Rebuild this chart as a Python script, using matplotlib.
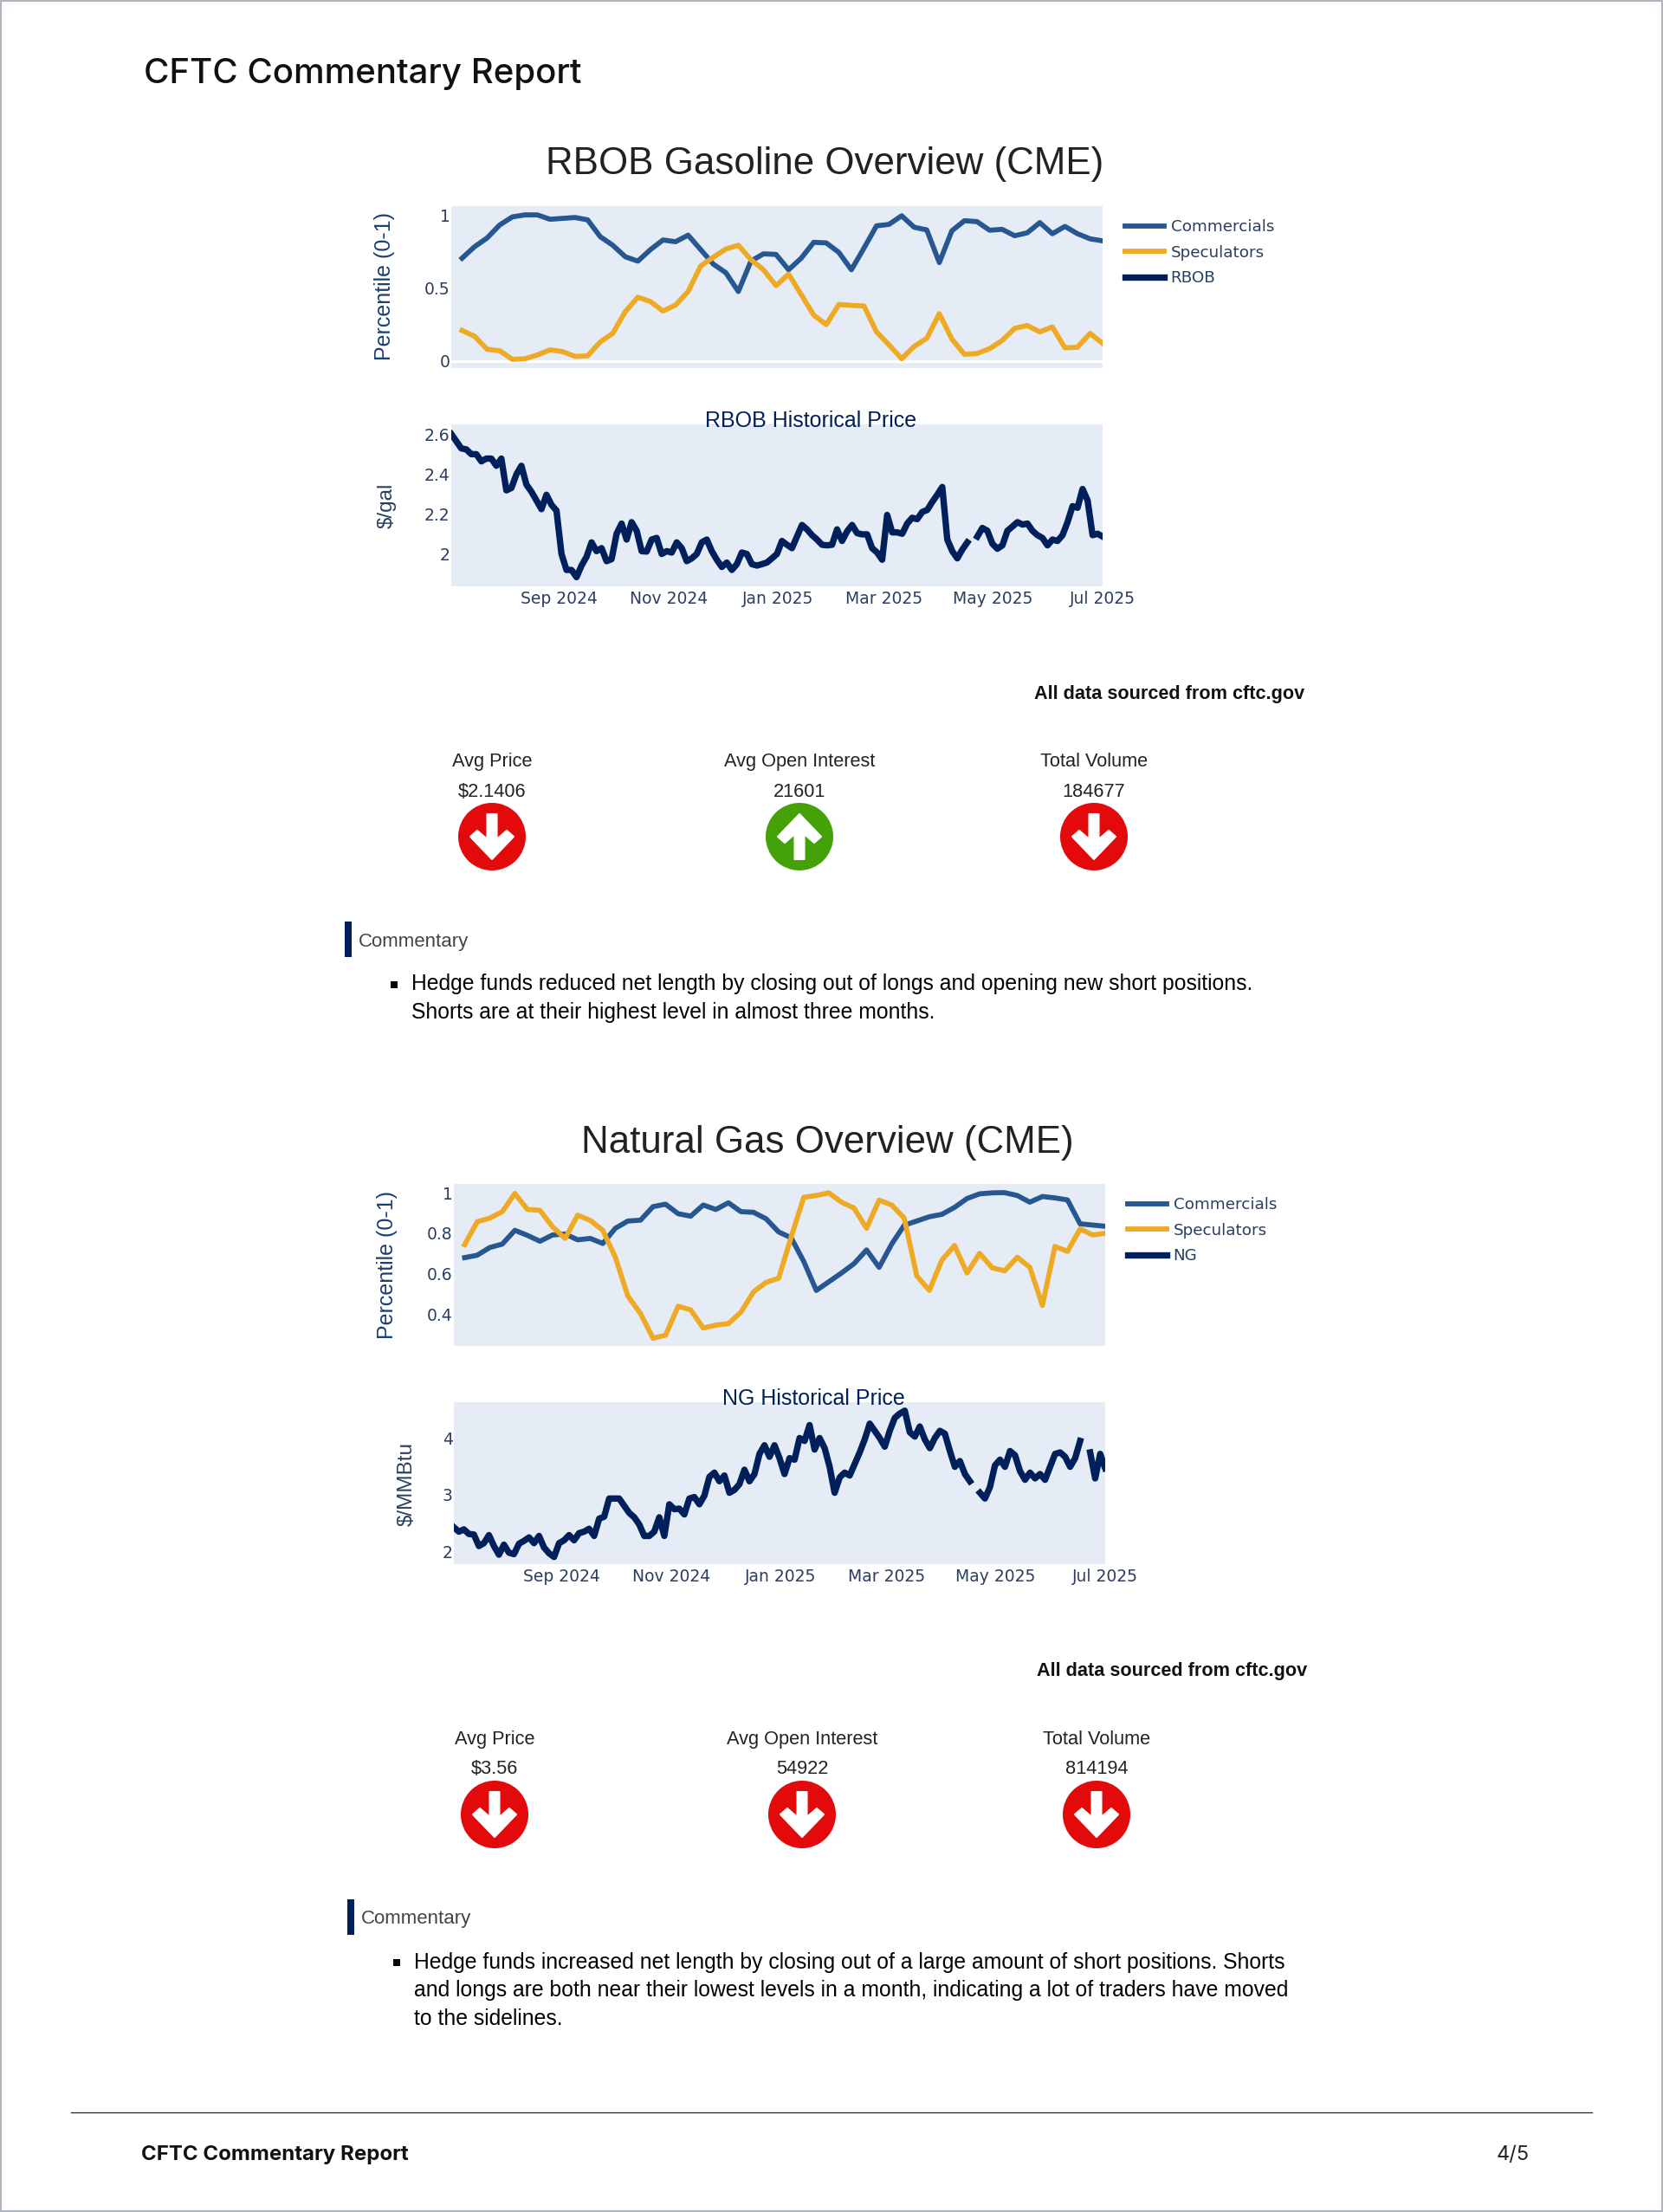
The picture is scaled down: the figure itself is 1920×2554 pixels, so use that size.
import numpy as np
import pandas as pd
import matplotlib
matplotlib.use('Agg')
import matplotlib.pyplot as plt
from matplotlib.patches import Ellipse, Polygon, Rectangle

W, H = 1920, 2554
nan = float('nan')

weeks = pd.date_range('2024-07-09', periods=52, freq='7D')
xlim = (pd.Timestamp('2024-07-03'), pd.Timestamp('2025-07-01'))
tick_dates = pd.to_datetime(['2024-09-01', '2024-11-01', '2025-01-01', '2025-03-01', '2025-05-01', '2025-07-01'])
tick_labels = ['Sep 2024', 'Nov 2024', 'Jan 2025', 'Mar 2025', 'May 2025', 'Jul 2025']

rbob_comm = [.703, .782, .842, .931, .986, 1.0, 1.0, .970, .976, .982, .966, .851, .792, .713, .683, .762, .828, .816,
             .861, .762, .663, .604, .475, .683, .733, .729, .624, .703, .812, .808, .743, .624, .772, .925, .935, .994,
             .915, .897, .673, .891, .960, .954, .895, .901, .857, .877, .947, .871, .921, .871, .836, .822]
rbob_spec = [.208, .168, .079, .069, .010, .014, .040, .075, .063, .030, .034, .129, .188, .337, .436, .406, .341, .382,
             .475, .650, .709, .766, .792, .693, .624, .515, .594, .455, .313, .248, .386, .380, .376, .198, .109, .014,
             .099, .154, .323, .149, .044, .050, .083, .139, .222, .242, .198, .232, .089, .093, .188, .119]
rbob_price = [2.600, 2.564, 2.528, 2.523, 2.499, 2.499, 2.463, 2.477, 2.477, 2.441, 2.477, 2.318, 2.330, 2.398, 2.441,
              2.347, 2.311, 2.268, 2.224, 2.296, 2.246, 2.217, 2.000, 1.920, 1.920, 1.884, 1.942, 1.986, 2.058, 2.014,
              2.029, 1.964, 1.974, 2.101, 2.152, 2.072, 2.159, 2.116, 2.014, 2.012, 2.072, 2.080, 2.000, 2.014, 2.007,
              2.058, 2.029, 1.964, 1.978, 2.000, 2.058, 2.072, 2.014, 1.971, 1.935, 1.957, 1.920, 1.949, 2.007, 2.000,
              1.949, 1.942, 1.949, 1.957, 1.978, 2.000, 2.065, 2.046, 2.029, 2.087, 2.145, 2.123, 2.094, 2.072, 2.046,
              2.043, 2.046, 2.123, 2.065, 2.113, 2.145, 2.104, 2.098, 2.098, 2.029, 2.007, 1.971, 2.195, 2.108, 2.108,
              2.101, 2.152, 2.181, 2.174, 2.210, 2.220, 2.260, 2.296, 2.335, 2.072, 2.014, 1.978, 2.022, 2.058, nan,
              2.087, 2.130, 2.116, 2.051, 2.026, 2.043, 2.116, 2.137, 2.159, 2.147, 2.152, 2.116, 2.094, 2.080, 2.043,
              2.072, 2.065, 2.094, 2.159, 2.239, 2.231, 2.325, 2.268, 2.094, 2.101, 2.087]

ng_comm = [.679, .691, .729, .746, .814, .789, .760, .791, .796, .767, .774, .749, .824, .860, .864, .931, .943, .896,
           .884, .939, .917, .950, .906, .903, .871, .806, .777, .660, .517, .560, .603, .649, .717, .631, .746, .839,
           .860, .881, .893, .927, .971, .994, .999, 1.0, .986, .953, .981, .974, .964, .846, .840, .834]
ng_spec = [.743, .856, .874, .906, .996, .917, .913, .831, .774, .889, .863, .814, .681, .489, .403, .281, .296, .439,
           .421, .331, .346, .353, .410, .510, .557, .577, .781, .977, .986, .999, .953, .924, .824, .963, .939, .874,
           .589, .517, .667, .739, .603, .700, .629, .614, .681, .631, .443, .734, .710, .821, .791, .799]
ng_price = [2.423, 2.346, 2.387, 2.305, 2.295, 2.091, 2.142, 2.285, 2.091, 1.938, 2.116, 1.973, 1.948, 2.132, 2.183,
            2.244, 2.142, 2.270, 2.065, 1.963, 1.897, 2.142, 2.193, 2.285, 2.193, 2.320, 2.346, 2.397, 2.270, 2.576,
            2.611, 2.933, 2.933, 2.933, 2.805, 2.678, 2.601, 2.474, 2.270, 2.270, 2.346, 2.601, 2.270, 2.831, 2.744,
            2.754, 2.652, 2.933, 2.959, 2.831, 2.984, 3.316, 3.392, 3.239, 3.341, 3.035, 3.086, 3.188, 3.444, 3.239,
            3.367, 3.724, 3.877, 3.673, 3.877, 3.648, 3.367, 3.648, 3.622, 4.005, 3.954, 4.235, 3.801, 4.005, 3.826,
            3.495, 3.035, 3.306, 3.392, 3.341, 3.546, 3.750, 3.980, 4.260, 4.133, 4.005, 3.852, 4.133, 4.362, 4.439,
            4.490, 4.107, 4.031, 4.209, 3.980, 3.826, 4.005, 4.133, 4.082, 3.775, 3.495, 3.597, 3.367, 3.239, nan,
            3.035, 2.933, 3.137, 3.520, 3.622, 3.495, 3.775, 3.699, 3.418, 3.265, 3.392, 3.290, 3.367, 3.265, 3.495,
            3.724, 3.750, 3.673, 3.495, 3.648, 3.954, nan, 3.750, 3.290, 3.724, 3.469]

rbob_kpi_names = ['Avg Price', 'Avg Open Interest', 'Total Volume']
rbob_kpi_values = ['$2.1406', '21601', '184677']
rbob_kpi_up = [False, True, False]
ng_kpi_values = ['$3.56', '54922', '814194']
ng_kpi_up = [False, False, False]

rbob_text = ['Hedge funds reduced net length by closing out of longs and opening new short positions.',
             'Shorts are at their highest level in almost three months.']
ng_text = ['Hedge funds increased net length by closing out of a large amount of short positions. Shorts',
           'and longs are both near their lowest levels in a month, indicating a lot of traders have moved',
           'to the sidelines.']

COMM = '#275791'
SPEC = '#efaa25'
NAVY = '#00205b'
TICK = '#2a3f5f'
BG = '#e5ecf6'
ARIAL = 'Liberation Sans'
VERD = 'DejaVu Sans'

fig = plt.figure(figsize=(W / 100, H / 100), dpi=100, facecolor='white')


def px_axes(left, top, right, bottom):
    ax = fig.add_axes([left / W, 1 - bottom / H, (right - left) / W, (bottom - top) / H], facecolor=BG)
    for s in ax.spines.values():
        s.set_visible(False)
    ax.tick_params(length=0, labelsize=13.5, labelcolor=TICK, pad=1)
    ax.set_xlim(*xlim)
    return ax


over = fig.add_axes([0, 0, 1, 1], zorder=10)
over.set_xlim(0, W)
over.set_ylim(H, 0)
over.axis('off')


def arrow_icon(cx, cy, up):
    over.add_patch(Ellipse((cx, cy), 78, 78, color='#44a208' if up else '#e20a0a', lw=0))
    s = -1 if up else 1
    shape = [(-5.5, -26), (5.5, -26), (5.5, 3), (17, -7), (25, 0), (0, 26), (-25, 0), (-17, -7), (-5.5, 3)]
    pts = [(cx + x, cy + s * y) for x, y in shape]
    over.add_patch(Polygon(pts, closed=True, facecolor='white', edgecolor='white', lw=1.5, joinstyle='round'))


def section(dx, dy, title, comm, spec, price, name, price_title, unit, unit_x, top_ylim, top_ticks, top_labels,
            price_ylim, price_ticks, price_labels, kpi_values, kpi_up, text):
    # percentile panel
    ax = px_axes(521 + dx, 238 + dy, 1273 + dx, 425 + dy)
    l1, = ax.plot(weeks, comm, color=COMM, lw=4.2, solid_joinstyle='round')
    l2, = ax.plot(weeks, spec, color=SPEC, lw=4.2, solid_joinstyle='round')
    ax.set_ylim(*top_ylim)
    ax.set_xticks([])
    ax.set_yticks(top_ticks)
    ax.set_yticklabels(top_labels, family=VERD)
    if top_ylim[0] < 0:
        ax.axhline(0, color='white', lw=2.2, zorder=1)

    # price panel
    ax2 = px_axes(521 + dx, 490 + dy, 1273 + dx, 677 + dy)
    l3, = ax2.plot(pd.date_range(xlim[0], xlim[1], periods=len(price)), price, color=NAVY, lw=5.3,
                   solid_joinstyle='round')
    ax2.set_ylim(*price_ylim)
    ax2.set_yticks(price_ticks)
    ax2.set_yticklabels(price_labels, family=VERD)
    ax2.set_xticks(tick_dates)
    ax2.set_xticklabels(tick_labels, family=VERD)
    ax2.tick_params(axis='x', pad=3.5)

    ax.legend([l1, l2, l3], ['Commercials', 'Speculators', name], loc='upper left', frameon=False,
              bbox_to_anchor=(1299 + dx, 253 + dy), bbox_transform=over.transData,
              labelspacing=0.64, handlelength=2.45, handletextpad=0.42, borderpad=0, borderaxespad=0,
              labelcolor=TICK, prop={'family': VERD, 'size': 13.2})

    over.text(952 + dx, 190 + dy, title, family=ARIAL, fontsize=31.6, color='#222222', ha='center', va='center')
    over.text(936 + dx, 486 + dy, price_title, family=ARIAL, fontsize=18, color=NAVY, ha='center', va='center')
    over.text(444 + dx, 331 + dy, 'Percentile (0-1)', family=ARIAL, fontsize=18, color='#1c3f73', rotation=90,
              ha='center', va='center')
    over.text(unit_x, 584 + dy, unit, family=ARIAL, fontsize=17.5, color=TICK, rotation=90, ha='center', va='center')
    over.text(1350 + dx, 801 + dy, 'All data sourced from cftc.gov', family=ARIAL, fontsize=15.6, weight='bold',
              color='#111111', ha='center', va='center')

    for cx, nm, val, up in zip([568, 923, 1263], rbob_kpi_names, kpi_values, kpi_up):
        over.text(cx + dx, 879.5 + dy, nm, family=ARIAL, fontsize=15.7, color='#222222', ha='center', va='center')
        over.text(cx + dx, 914 + dy, val, family=ARIAL, fontsize=15.7, color='#222222', ha='center', va='center')
        arrow_icon(cx + dx, 966 + dy, up)

    over.add_patch(Rectangle((398 + dx, 1064 + dy), 8, 41, color=NAVY, lw=0))
    over.text(414 + dx, 1087 + dy, 'Commentary', family=ARIAL, fontsize=16, color='#444444', va='center')
    over.add_patch(Rectangle((451 + dx, 1132.5 + dy), 8, 8, color='black', lw=0))
    for i, line in enumerate(text):
        over.text(475 + dx, 1136.5 + dy + i * 32.7, line, family=ARIAL, fontsize=17.8, color='black', va='center')


section(0, 0, 'RBOB Gasoline Overview (CME)', rbob_comm, rbob_spec, rbob_price, 'RBOB', 'RBOB Historical Price',
        '$/gal', 447, (-0.05, 1.06), [0, 0.5, 1], ['0', '0.5', '1'], (1.838, 2.648), [2, 2.2, 2.4, 2.6],
        ['2', '2.2', '2.4', '2.6'], rbob_kpi_values, rbob_kpi_up, rbob_text)
section(3, 1129, 'Natural Gas Overview (CME)', ng_comm, ng_spec, ng_price, 'NG', 'NG Historical Price',
        '$/MMBtu', 470, (0.243, 1.043), [0.4, 0.6, 0.8, 1], ['0.4', '0.6', '0.8', '1'], (1.77, 4.64), [2, 3, 4],
        ['2', '3', '4'], ng_kpi_values, ng_kpi_up, ng_text)

# page header and footer
over.text(166, 85.5, 'CFTC Commentary Report', family='Inter', fontsize=28.9, weight='medium', color='#111111', va='center')
over.plot([82, 1838], [2439, 2439], color='#222222', lw=0.9)
over.text(163, 2488, 'CFTC Commentary Report', family='Inter', fontsize=17.3, weight='bold', color='#111111', va='center')
over.text(1728, 2488, '4/5', family='Inter', fontsize=17, color='#222222', va='center')
over.add_patch(Rectangle((0, 0), W, H, fill=False, edgecolor='#aeb6c1', lw=3))

fig.savefig('out.png', dpi=100)
